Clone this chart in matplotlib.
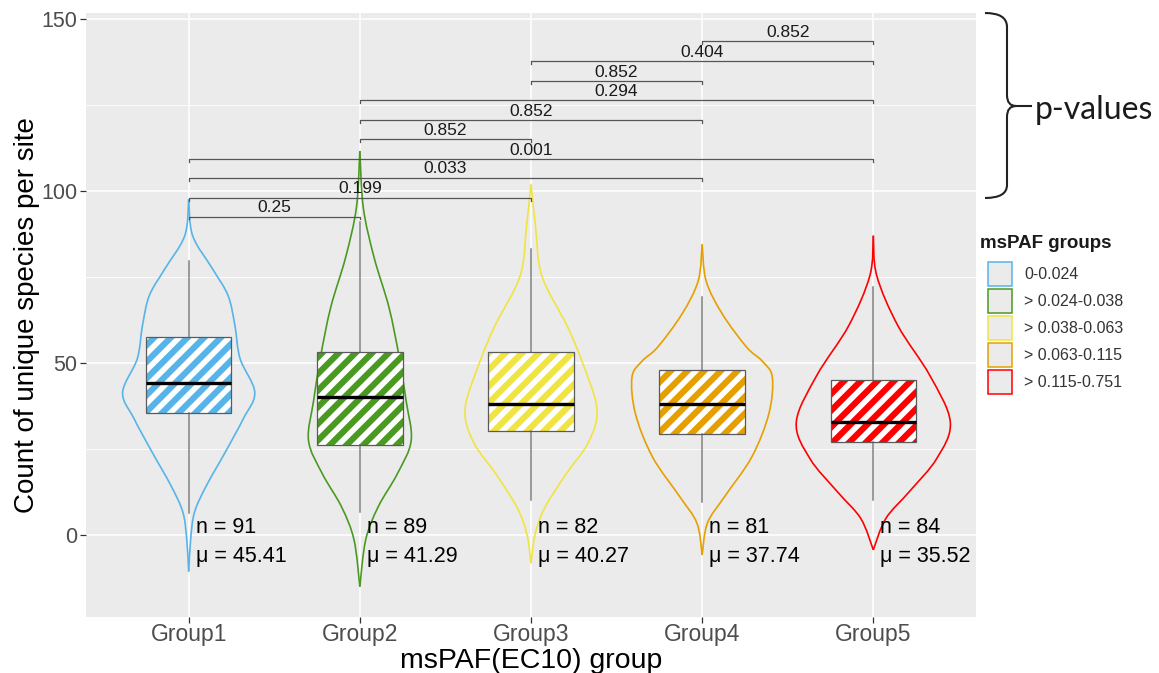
import matplotlib.pyplot as plt
from matplotlib.path import Path
from matplotlib.patches import PathPatch, Patch

plt.rcParams['font.family'] = ['Liberation Sans', 'DejaVu Sans']
plt.rcParams['hatch.linewidth'] = 4.0

groups = ['Group1', 'Group2', 'Group3', 'Group4', 'Group5']
legend_labels = ['0-0.024', '> 0.024-0.038', '> 0.038-0.063', '> 0.063-0.115', '> 0.115-0.751']
colors = ['#56B4E9', '#4A9A22', '#F0E442', '#E69F00', '#FF0000']
n_sites = [91, 89, 82, 81, 84]
means = [45.41, 41.29, 40.27, 37.74, 35.52]

# box statistics
q1 = [35.6, 26.1, 30.1, 29.3, 27.0]
medians = [44.2, 40.1, 38.2, 38.2, 33.0]
q3 = [57.5, 53.1, 53.1, 48.0, 45.2]
whis_lo = [6.3, 6.8, 10.1, 9.7, 10.1]
whis_hi = [79.7, 91.0, 83.1, 69.1, 72.0]

# violin outlines: value and half width (x units)
violin_y = [
    [-10.6, -0.9, 6.8, 14.5, 24.2, 33.9, 41.5, 51.3, 60.9, 69.6, 77.3, 87.0, 97.6],
    [-15.0, -1.4, 8.2, 17.9, 27.5, 39.1, 51.7, 66.2, 80.7, 95.2, 111.6],
    [-8.2, 0.0, 7.7, 17.4, 27.0, 36.7, 50.2, 60.9, 75.4, 89.9, 101.9],
    [-5.8, 3.4, 11.1, 22.7, 35.3, 45.9, 50.6, 54.6, 64.3, 73.9, 84.5],
    [-4.3, 4.8, 12.6, 22.2, 32.8, 46.4, 60.9, 75.4, 87.0],
]
violin_hw = [
    [0, 0.012, 0.035, 0.105, 0.215, 0.32, 0.386, 0.30, 0.27, 0.23, 0.14, 0.023, 0],
    [0, 0.034, 0.107, 0.22, 0.30, 0.27, 0.23, 0.17, 0.083, 0.02, 0],
    [0, 0.023, 0.078, 0.20, 0.336, 0.385, 0.30, 0.21, 0.063, 0.026, 0],
    [0, 0.03, 0.13, 0.29, 0.39, 0.41, 0.35, 0.26, 0.117, 0.023, 0],
    [0, 0.073, 0.21, 0.37, 0.45, 0.33, 0.143, 0.02, 0],
]

# pairwise comparisons
pairs = [(1, 2), (1, 3), (1, 4), (1, 5), (2, 3), (2, 4), (2, 5), (3, 4), (3, 5), (4, 5)]
p_values = ['0.25', '0.199', '0.033', '0.001', '0.852', '0.852', '0.294', '0.852', '0.404', '0.852']
bracket_y = [92.5, 98.0, 103.8, 109.3, 115.1, 120.6, 126.4, 131.9, 137.7, 143.5]


def smooth_path(pts):
    # Catmull-Rom curve through the read points, drawn as cubic Bezier segments
    verts = [pts[0]]
    codes = [Path.MOVETO]
    n = len(pts)
    for i in range(n - 1):
        p0, p1 = pts[max(i - 1, 0)], pts[i]
        p2, p3 = pts[i + 1], pts[min(i + 2, n - 1)]
        c1 = (p1[0] + (p2[0] - p0[0]) / 6, p1[1] + (p2[1] - p0[1]) / 6)
        c2 = (p2[0] - (p3[0] - p1[0]) / 6, p2[1] - (p3[1] - p1[1]) / 6)
        verts += [c1, c2, p2]
        codes += [Path.CURVE4] * 3
    return Path(verts, codes)


W, H = 1159, 673
fig = plt.figure(figsize=(W / 100, H / 100), dpi=100)
ax = fig.add_axes([86 / W, 1 - 617 / H, 890 / W, 604 / H])
ax.set_facecolor('#EBEBEB')
for s in ax.spines.values():
    s.set_visible(False)

pos = list(range(1, 6))

# violins
for i, p in enumerate(pos):
    for side in (1, -1):
        pts = [(p + side * w, y) for y, w in zip(violin_y[i], violin_hw[i])]
        ax.add_patch(PathPatch(smooth_path(pts), fill=False, edgecolor=colors[i], lw=1.2, zorder=2))

# boxplots
stats = [dict(med=medians[i], q1=q1[i], q3=q3[i], whislo=whis_lo[i], whishi=whis_hi[i], fliers=[])
         for i in range(5)]
bp = ax.bxp(stats, positions=pos, widths=0.5, patch_artist=True, showcaps=False, showfliers=False,
            boxprops=dict(edgecolor='white', linewidth=0, hatch='//'),
            whiskerprops=dict(color='#7F7F7F', lw=1.1),
            medianprops=dict(color='black', lw=2.4), zorder=3)
for patch, c in zip(bp['boxes'], colors):
    patch.set_facecolor(c)
for m in bp['medians']:
    m.set_zorder(5)
ax.bar(pos, [b - a for a, b in zip(q1, q3)], bottom=q1, width=0.5, fill=False,
       edgecolor='#5A5A5A', lw=0.9, zorder=4)

# significance brackets
for (a, b), txt, y in zip(pairs, p_values, bracket_y):
    ax.plot([a, a, b, b], [y - 0.8, y, y, y - 0.8], color='#555555', lw=0.9, zorder=6)
    ax.text((a + b) / 2, y + 0.4, txt, ha='center', va='bottom', fontsize=12.5, color='#1A1A1A', zorder=7)

# n and mean labels
for p, n, m in zip(pos, n_sites, means):
    ax.text(p + 0.04, 2.3, f'n = {n}', ha='left', va='center', fontsize=15.5, color='black')
    ax.text(p + 0.04, -6.2, f'\u03bc = {m:.2f}', ha='left', va='center', fontsize=15.5, color='black')

ax.set_xlim(0.4, 5.6)
ax.set_ylim(-23.8, 151.7)
ax.set_xticks(pos)
ax.set_xticklabels(groups)
ax.set_yticks([0, 50, 100, 150])
ax.set_yticks([25, 75, 125], minor=True)
ax.grid(True, which='major', color='white', lw=1.1)
ax.grid(True, which='minor', axis='y', color='white', lw=0.6)
ax.set_axisbelow(True)
ax.tick_params(axis='both', which='major', labelsize=15.5, labelcolor='#4D4D4D', color='#333333',
               length=4, width=0.9, pad=2)
ax.tick_params(axis='x', which='major', labelsize=16.5, pad=0)
ax.tick_params(axis='y', which='minor', length=0)
ax.set_xlabel('msPAF(EC10) group', fontsize=20.5, labelpad=2)
ax.set_ylabel('Count of unique species per site', fontsize=20, labelpad=1)

# legend
fig.text(980 / W, 1 - 243 / H, 'msPAF groups', fontsize=13.5, weight='bold', ha='left', va='center',
         color='#1A1A1A')
handles = [Patch(facecolor='#EBEBEB', edgecolor=c, lw=1.1) for c in colors]
leg = fig.legend(handles, legend_labels, loc='upper left', bbox_to_anchor=(988 / W, 1 - 262 / H),
                 frameon=False, fontsize=11.5,
                 handlelength=1.5, handleheight=1.93, labelspacing=0.19, handletextpad=0.75,
                 borderaxespad=0, borderpad=0)
for t in leg.get_texts():
    t.set_color('#333333')


def fp(x, y):
    return (x / W, 1 - y / H)


brace = [fp(985, 13), fp(1007, 13), fp(1007, 27), fp(1007, 95), fp(1007, 106), fp(1016, 106),
         fp(1007, 106), fp(1007, 117), fp(1007, 185), fp(1007, 198), fp(985, 198)]
codes = [Path.MOVETO, Path.CURVE3, Path.CURVE3, Path.LINETO, Path.CURVE3, Path.CURVE3,
         Path.CURVE3, Path.CURVE3, Path.LINETO, Path.CURVE3, Path.CURVE3]
fig.add_artist(PathPatch(Path(brace, codes), fill=False, edgecolor='#222222', lw=1.5,
                         transform=fig.transFigure))
fig.add_artist(plt.Line2D([1014 / W, 1031 / W], [1 - 106 / H, 1 - 106 / H], color='#222222', lw=1.5,
                          transform=fig.transFigure))
fig.text(1035 / W, 1 - 110 / H, 'p-values', fontsize=23, family=['Lato', 'DejaVu Sans'],
         ha='left', va='center', color='#1A1A1A')

fig.savefig('out.png', dpi=100)
